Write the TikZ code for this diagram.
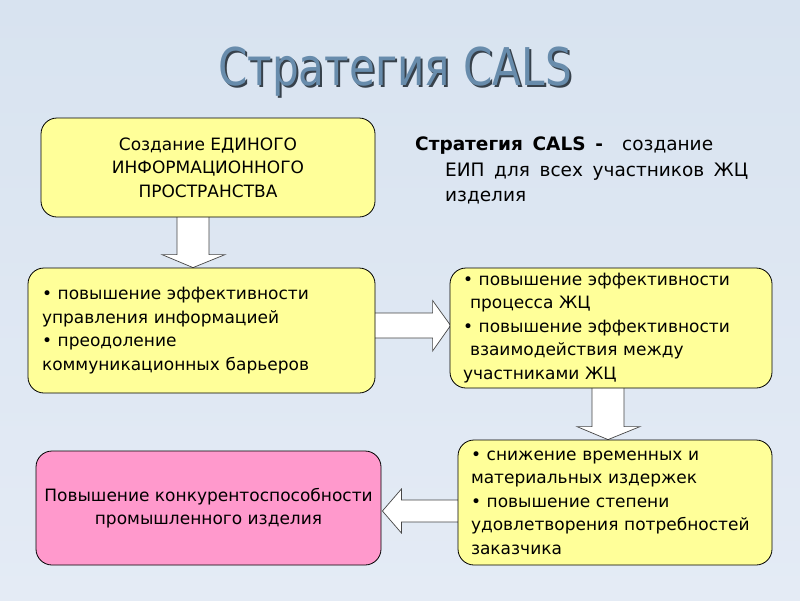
\documentclass[tikz,border=0pt]{standalone}
\usepackage{fontspec}
\setmainfont{DejaVu Sans}
\newfontfamily\titlefont{DejaVu Sans}[FakeStretch=0.81]
\usetikzlibrary{calc}
\pgfdeclarelayer{bg}
\pgfdeclarelayer{arrows}
\pgfsetlayers{bg,arrows,main}
\definecolor{bgtop}{RGB}{216,227,240}
\definecolor{bgbot}{RGB}{228,235,245}
\definecolor{boxyellow}{RGB}{255,255,153}
\definecolor{boxpink}{RGB}{255,153,204}
\definecolor{titleblue}{RGB}{104,140,172}
\definecolor{titleshadow}{RGB}{55,65,75}
\definecolor{arrowedge}{RGB}{70,70,70}
\newcommand{\widespaces}{\spaceskip=0.52em\relax}
\begin{document}
\begin{tikzpicture}[x=1pt,y=-1pt,
  box/.style={draw=black, line width=0.8pt, rounded corners=16pt, inner sep=0pt,
    font=\fontsize{17}{23.5}\selectfont},
  ybox/.style={box, fill=boxyellow},
  pbox/.style={box, fill=boxpink},
  listbox/.style={ybox, align=left, inner xsep=14pt},
  fatarrow/.style={draw=arrowedge, fill=white, line width=0.7pt, line join=miter},
  titletext/.style={font=\titlefont\fontsize{52}{52}\selectfont, anchor=base, inner sep=0pt}]
\begin{pgfonlayer}{bg}
\shade[top color=bgtop, bottom color=bgbot] (0,0) rectangle (800,600);
\end{pgfonlayer}
\useasboundingbox (0,0) rectangle (800,600);

% title
\node[titletext, text=titleshadow] (titleshadow) at (397,87) {Стратегия CALS};
\node[titletext, text=titleblue] (title) at (395,85) {Стратегия CALS};

% boxes
\node[ybox, minimum width=334pt, minimum height=99pt, align=center] (b1) at (208,167.5)
  {Создание ЕДИНОГО\\ИНФОРМАЦИОННОГО\\ПРОСТРАНСТВА};
\node[listbox, text width=319pt, minimum height=125pt] (b2) at (201.5,330.5)
  {• повышение эффективности\\управления информацией\\• преодоление\\коммуникационных барьеров};
\node[listbox, inner xsep=13pt, text width=296pt, minimum height=120pt] (b3) at (611,328)
  {• повышение эффективности\\\hspace*{7pt}процесса ЖЦ\\• повышение эффективности\\\hspace*{7pt}взаимодействия между\\участниками ЖЦ};
\node[listbox, inner xsep=13pt, text width=288pt, minimum height=125pt] (b4) at (615,502.5)
  {• снижение временных и\\материальных издержек\\• повышение степени\\удовлетворения потребностей\\заказчика};
\node[pbox, minimum width=345pt, minimum height=114pt, align=center] (b5) at (208.5,508)
  {Повышение конкурентоспособности\\промышленного изделия};

% definition text
\node[anchor=north west, align=left, inner sep=0pt,
  font=\fontsize{18.5}{25.5}\selectfont\widespaces] (def) at (415,137)
  {\textbf{Стратегия CALS -}\ \ создание\\\hspace*{30pt}ЕИП для всех участников ЖЦ\\\hspace*{30pt}изделия};

% block arrows
\begin{pgfonlayer}{arrows}
\draw[fatarrow] ($(b2.north)+(-8.5,0)$) coordinate (t1)
  -- ++(-31,-13) -- ++(15,0) -- ++(0,-39) -- ++(32,0) -- ++(0,39) -- ++(16,0) -- cycle;
\draw[fatarrow] ($(b3.west)+(1,-2.5)$) coordinate (t2)
  -- ++(-18,-25) -- ++(0,12.5) -- ++(-59,0) -- ++(0,25) -- ++(59,0) -- ++(0,13) -- cycle;
\draw[fatarrow] ($(b4.north)+(-7,0)$) coordinate (t3)
  -- ++(-31,-13) -- ++(15,0) -- ++(0,-39) -- ++(32,0) -- ++(0,39) -- ++(16,0) -- cycle;
\draw[fatarrow] ($(b5.east)+(1,3)$) coordinate (t4)
  -- ++(19,-22) -- ++(0,11) -- ++(58,0) -- ++(0,22) -- ++(-58,0) -- ++(0,11) -- cycle;
\end{pgfonlayer}
\end{tikzpicture}
\end{document}
